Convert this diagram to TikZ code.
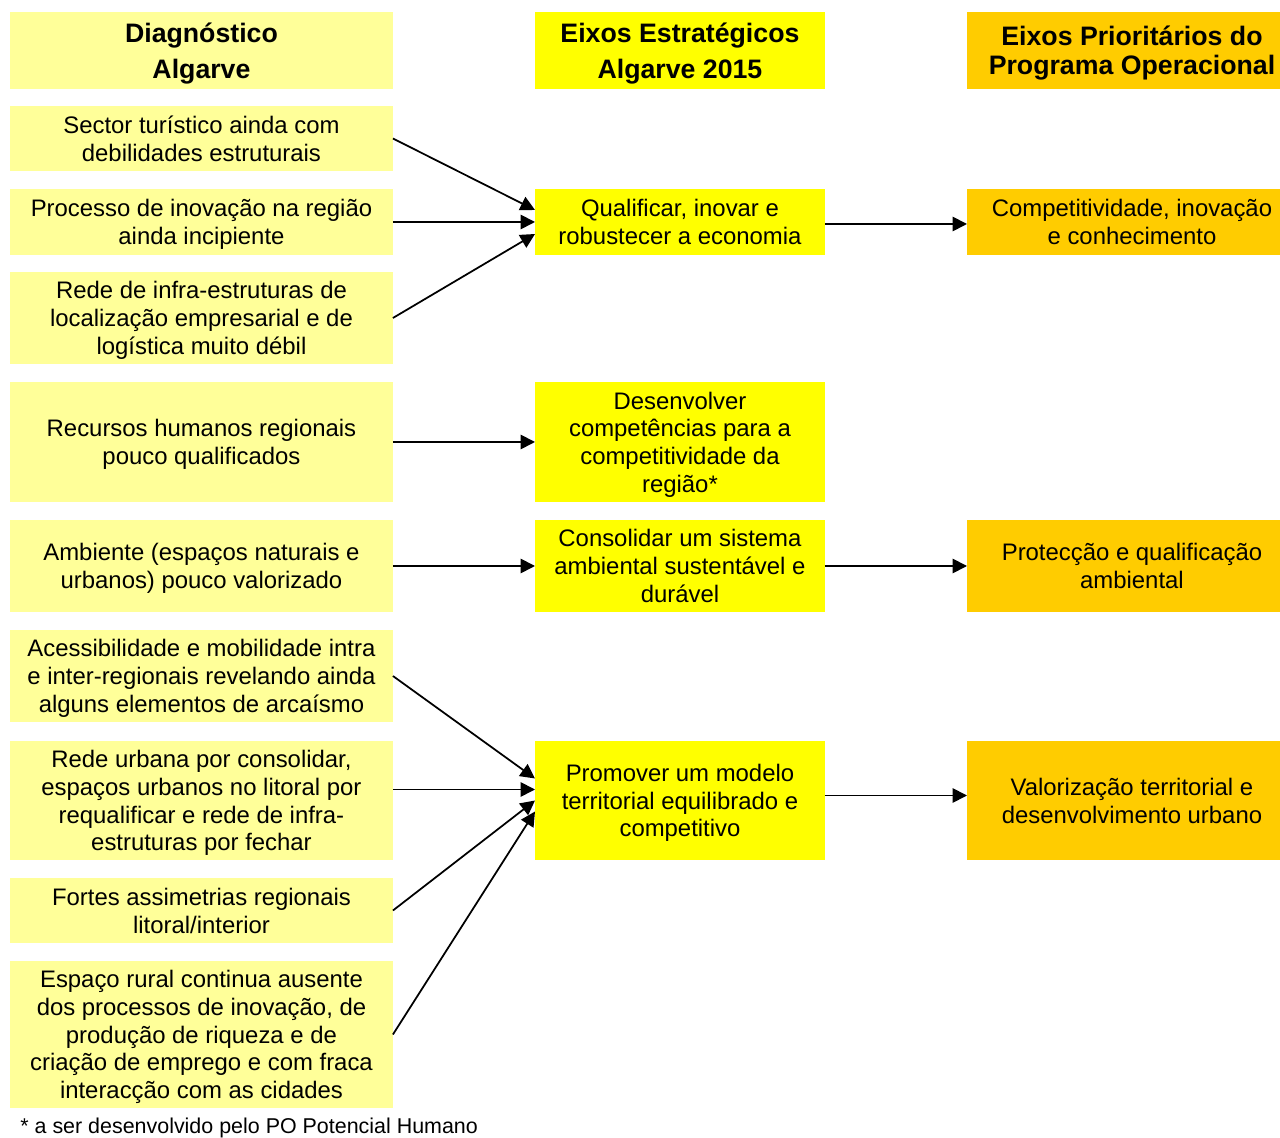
\documentclass[tikz,border=0pt]{standalone}
\usepackage{fontspec}
\setmainfont{Liberation Sans}
\usetikzlibrary{calc,arrows.meta}
\definecolor{diagfill}{HTML}{FFFF99}
\definecolor{eixofill}{HTML}{FFFF00}
\definecolor{progfill}{HTML}{FFCC00}

\begin{document}
\begin{tikzpicture}[x=0.02cm,y=-0.02cm,
    box/.style={inner sep=0pt, outer sep=0pt, align=center, anchor=north west, text depth=0pt, font=\fontsize{13.6}{15.8}\selectfont},
    diag/.style={box, fill=diagfill, minimum width=7.66cm},
    eixo/.style={box, fill=eixofill, minimum width=5.8cm},
    prog/.style={box, fill=progfill, minimum width=5.94cm},
    head/.style={minimum height=1.54cm, font=\fontsize{15.2}{20.5}\bfseries\selectfont},
    arr/.style={-{Triangle[length=0.29cm,width=0.29cm]}, line width=1pt}]
    \useasboundingbox (0,0) rectangle (1280,1138);

    % Column headers
    \node[diag,head] (hdiag) at (10,12) {Diagnóstico\\Algarve};
    \node[eixo,head] (heixo) at (535,12) {Eixos Estratégicos\\Algarve 2015};
    \node[prog,head,font=\fontsize{15.2}{16.5}\bfseries\selectfont] (hprog) at (983.5,12) {Eixos Prioritários do\\Programa Operacional};

    % Diagnostico
    \node[diag,minimum height=1.3cm] (d1) at (10,106) {Sector turístico ainda com\\debilidades estruturais};
    \node[diag,minimum height=1.32cm] (d2) at (10,189) {Processo de inovação na região\\ainda incipiente};
    \node[diag,minimum height=1.84cm] (d3) at (10,272) {Rede de infra-estruturas de\\localização empresarial e de\\logística muito débil};
    \node[diag,minimum height=2.4cm] (d4) at (10,382) {Recursos humanos regionais\\pouco qualificados};
    \node[diag,minimum height=1.84cm] (d5) at (10,520) {Ambiente (espaços naturais e\\urbanos) pouco valorizado};
    \node[diag,minimum height=1.84cm] (d6) at (10,630) {Acessibilidade e mobilidade intra\\e inter-regionais revelando ainda\\alguns elementos de arcaísmo};
    \node[diag,minimum height=2.38cm] (d7) at (10,741) {Rede urbana por consolidar,\\espaços urbanos no litoral por\\requalificar e rede de infra-\\estruturas por fechar};
    \node[diag,minimum height=1.3cm] (d8) at (10,878) {Fortes assimetrias regionais\\litoral/interior};
    \node[diag,minimum height=2.94cm] (d9) at (10,961) {Espaço rural continua ausente\\dos processos de inovação, de\\produção de riqueza e de\\criação de emprego e com fraca\\interacção com as cidades};

    % Eixos estrategicos
    \node[eixo,minimum height=1.32cm] (m1) at (535,189) {Qualificar, inovar e\\robustecer a economia};
    \node[eixo,minimum height=2.4cm] (m2) at (535,382) {Desenvolver\\competências para a\\competitividade da\\região*};
    \node[eixo,minimum height=1.84cm] (m3) at (535,520) {Consolidar um sistema\\ambiental sustentável e\\durável};
    \node[eixo,minimum height=2.38cm] (m4) at (535,741) {Promover um modelo\\territorial equilibrado e\\competitivo};

    % Eixos prioritarios
    \node[prog,minimum height=1.32cm] (p1) at (983.5,189) {Competitividade, inovação\\e conhecimento};
    \node[prog,minimum height=1.84cm] (p2) at (983.5,520) {Protecção e qualificação\\ambiental};
    \node[prog,minimum height=2.38cm] (p3) at (983.5,741) {Valorização territorial e\\desenvolvimento urbano};
    % left strip of the last column
    \foreach \p in {hprog,p1,p2,p3} {
        \fill[progfill] (967,0 |- \p.north) rectangle ($(\p.south west)+(1,0)$);
    }

    % Nota
    \node[anchor=west, inner sep=0pt, font=\fontsize{12.2}{14}\selectfont] (nota) at (20,1128) {* a ser desenvolvido pelo PO Potencial Humano};

    % Ligacoes
    \foreach \s/\t/\dy in {d1/m1/-12, d2/m1/0, d3/m1/12, d4/m2/0, d5/m3/0, d6/m4/-22, d8/m4/0, d9/m4/11} {
        \draw[arr] (\s.east) -- ($(\t.west)+(0,\dy)$);
    }
    \draw[arr] ($(d7.east)+(0,-11)$) -- ($(m4.west)+(0,-11)$);
    \draw[arr] ($(m1.east)+(0,2)$) -- ($(p1.west)+(-16.5,2)$);
    \draw[arr] (m3.east) -- ($(p2.west)+(-16.5,0)$);
    \draw[arr] ($(m4.east)+(0,-5)$) -- ($(p3.west)+(-16.5,-5)$);
\end{tikzpicture}
\end{document}
